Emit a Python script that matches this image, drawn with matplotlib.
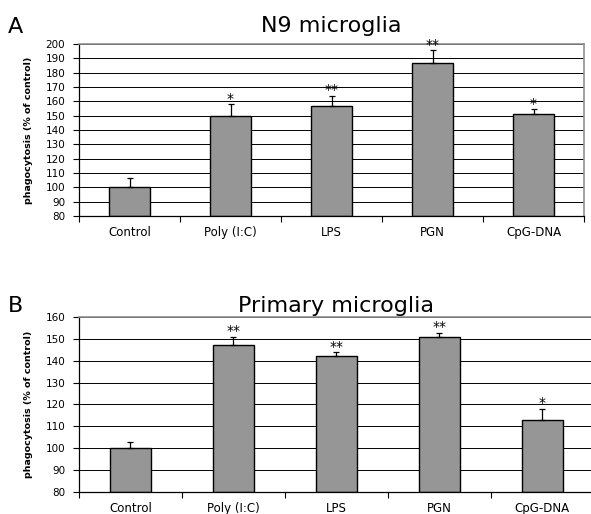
import numpy as np
import matplotlib
matplotlib.use('Agg')
from matplotlib import pyplot as plt

categories = ['Control', 'Poly (I:C)', 'LPS', 'PGN', 'CpG-DNA']

# N9 microglia
n9_vals = [100, 149.5, 157, 187, 151.5]
n9_err = [6.5, 8.5, 7, 8.5, 3]
n9_sig = ['', '*', '**', '**', '*']

# Primary microglia
prim_vals = [100, 147, 142, 151, 113]
prim_err = [3, 3.8, 1.8, 1.8, 5]
prim_sig = ['', '**', '**', '**', '*']

fig = plt.figure(figsize=(5.91, 5.14), dpi=100)

def draw_panel(rect, vals, errs, sig, ymin, ymax, title, title_pad):
    ax = fig.add_axes(rect)
    x = np.arange(len(categories))
    ax.set_axisbelow(True)
    for yv in np.arange(ymin + 10, ymax + 1, 10):
        ax.axhline(yv, color='black', lw=0.7, zorder=0)
    ax.bar(x, np.array(vals) - ymin, bottom=ymin, width=0.4, color='#969696',
           edgecolor='black', linewidth=1.0, zorder=2)
    ax.errorbar(x, vals, yerr=[np.zeros(len(errs)), errs], fmt='none',
                ecolor='black', elinewidth=0.9, capsize=2.2, capthick=0.9, zorder=3)
    for xi, v, e, s in zip(x, vals, errs, sig):
        if s:
            ax.annotate(s, (xi, v + e), xytext=(0, -1), textcoords='offset points',
                        ha='center', va='bottom', fontsize=10)
    ax.set_xlim(-0.5, len(categories) - 0.5)
    ax.set_ylim(ymin, ymax)
    ax.set_yticks(np.arange(ymin, ymax + 1, 10))
    ax.set_xticks(np.arange(len(categories) + 1) - 0.5)
    ax.set_xticklabels([])
    ax.set_xticks(x, minor=True)
    ax.set_xticklabels(categories, minor=True, fontsize=8.5)
    ax.tick_params(axis='x', which='minor', length=0, pad=7)
    ax.tick_params(axis='x', which='major', length=4, direction='out', width=0.8)
    ax.tick_params(axis='y', length=4, direction='out', width=0.8, labelsize=7.5, pad=6)
    for sp in ['top', 'right']:
        ax.spines[sp].set_color('#909090')
        ax.spines[sp].set_linewidth(1.2)
    ax.spines['left'].set_linewidth(0.9)
    ax.spines['bottom'].set_linewidth(0.9)
    ax.set_ylabel('phagocytosis (% of control)', fontsize=6.8, fontweight='bold',
                  labelpad=9)
    ax.set_title(title, fontsize=16, pad=title_pad)
    return ax

axA = draw_panel([0.1337, 0.5798, 0.8545, 0.3346], n9_vals, n9_err, n9_sig,
                 80, 200, 'N9 microglia', 8.5)
axB = draw_panel([0.1337, 0.0428, 0.871, 0.3405], prim_vals, prim_err, prim_sig,
                 80, 160, 'Primary microglia', 3.5)

fig.text(0.013, 0.935, 'A', fontsize=16)
fig.text(0.013, 0.393, 'B', fontsize=16)

fig.savefig('out.png', dpi=100)
